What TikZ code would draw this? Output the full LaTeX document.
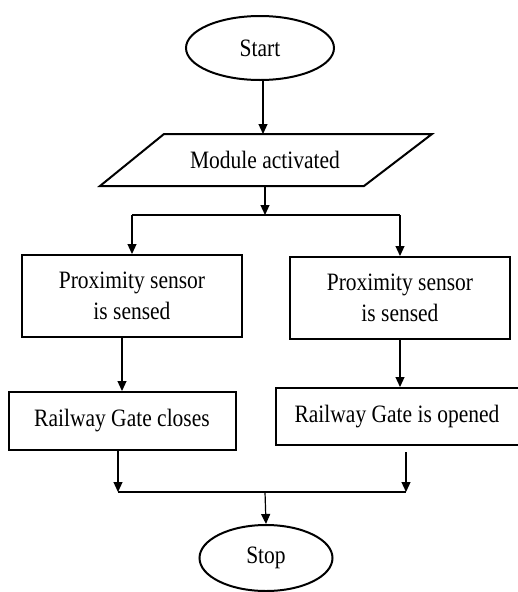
\documentclass[tikz,border=0pt]{standalone}
\usepackage{fontspec}
\setmainfont[FakeStretch=0.86]{Liberation Serif}
\usetikzlibrary{shapes.geometric,arrows.meta,calc}
\begin{document}
\begin{tikzpicture}[x=1pt,y=1pt,
  every node/.style={font=\fontsize{25}{31}\selectfont, align=center, inner sep=0pt},
  term/.style={ellipse, draw, line width=2pt, minimum width=#1, minimum height=64pt},
  procbox/.style={rectangle, draw, line width=2pt},
  arr/.style={line width=1.2pt, -{Triangle[length=10pt,width=9pt]}},
  ln/.style={line width=1.2pt}]
\useasboundingbox (0,0) rectangle (517,-592);
\node[term=148pt] (start) at (260,-48) {Start};
\node[minimum width=260pt, minimum height=52pt] (module) at (265,-160) {Module activated};
\draw[line width=2pt] (164,-134) -- (432,-134) -- (364,-186) -- (100,-186) -- cycle;
\coordinate (split) at (265,-215);
\coordinate (splitL) at (132,-215);
\coordinate (splitR) at (400,-215);
\node[procbox, minimum width=220pt, minimum height=82pt] (sensL) at (132,-296) {Proximity sensor\\is sensed};
\node[procbox, minimum width=220pt, minimum height=82pt] (sensR) at (400,-298) {Proximity sensor\\is sensed};
\node[procbox, minimum width=227pt, minimum height=58pt] (closes) at (122,-421) {Railway Gate closes};
\node[procbox, minimum width=243pt, minimum height=57pt] (opened) at (397,-416.5) {Railway Gate is opened};
\coordinate (joinL) at (118,-492);
\coordinate (joinR) at (406,-492);
\coordinate (join) at (265,-492);
\node[term=133pt, minimum height=66pt] (stop) at (266,-558) {Stop};
\draw[arr] (start.south -| 263,0) -- (263,-134);
\draw[arr] (265,-186) -- (split);
\draw[ln] (splitL) -- (splitR);
\draw[arr] (splitL) -- (sensL.north);
\draw[arr] (splitR) -- (sensR.north);
\draw[arr] (sensL.south -| closes.north) -- (closes.north);
\draw[arr] (sensR.south) -- (sensR.south |- opened.north);
\draw[arr] (closes.south -| joinL) -- (joinL);
\draw[arr] ($(opened.south -| joinR)+(0,-6)$) -- (joinR);
\draw[ln] (joinL) -- (joinR);
\draw[arr] (join) -- (stop.north);
\end{tikzpicture}
\end{document}
